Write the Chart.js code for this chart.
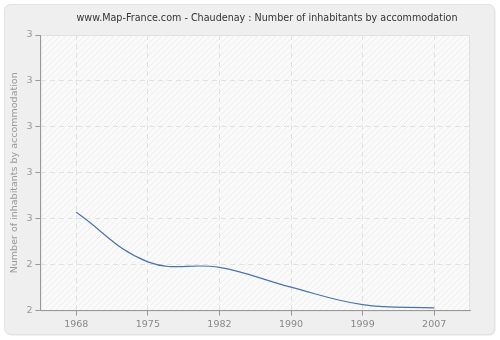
<!DOCTYPE html>
<html>
<head>
<meta charset="utf-8">
<script src="https://cdn.jsdelivr.net/npm/chart.js@4/dist/chart.umd.min.js"></script>
<style>
  html, body { margin: 0; padding: 0; background: #fff; }
  canvas { display: block; }
</style>
</head>
<body>
<canvas id="chart" width="500" height="340"></canvas>
<script>
// census years and inhabitants per accommodation
const years = ['1968', '1975', '1982', '1990', '1999', '2007'];
const inhabitants = [2.514, 2.406, 2.394, 2.351, 2.313, 2.306];

// y axis range, labels are shown rounded to whole numbers
const yMin = 2.3;
const yMax = 2.9;
const yStep = 0.1;

const titleText = 'www.Map-France.com - Chaudenay : Number of inhabitants by accommodation';
const yTitle = 'Number of inhabitants by accommodation';

const FONT = 'DejaVu Sans';

// light hatch used as plot background
function hatchPattern(ctx) {
  const c = document.createElement('canvas');
  c.width = 6; c.height = 6;
  const p = c.getContext('2d');
  p.fillStyle = '#fafafa';
  p.fillRect(0, 0, 6, 6);
  p.strokeStyle = '#eeeeee';
  p.lineWidth = 1;
  p.beginPath();
  p.moveTo(0, 6); p.lineTo(6, 0);
  p.moveTo(-3, 3); p.lineTo(3, -3);
  p.moveTo(3, 9); p.lineTo(9, 3);
  p.stroke();
  return ctx.createPattern(c, 'repeat');
}

// grey rounded frame, plot background and title
const frame = {
  id: 'frame',
  beforeDraw(chart) {
    const { ctx, chartArea: a } = chart;
    ctx.save();
    ctx.fillStyle = '#fff';
    ctx.fillRect(0, 0, chart.width, chart.height);
    ctx.beginPath();
    ctx.roundRect(5.5, 5.5, chart.width - 10, chart.height - 10, 6);
    ctx.fillStyle = '#e6e6e6';
    ctx.fill();
    ctx.beginPath();
    ctx.roundRect(4.5, 4.5, chart.width - 10, chart.height - 10, 6);
    ctx.fillStyle = '#efefef';
    ctx.fill();
    ctx.strokeStyle = '#e2e2e2';
    ctx.stroke();
    ctx.fillStyle = hatchPattern(ctx);
    ctx.fillRect(a.left, a.top, a.right - a.left, a.bottom - a.top);
    ctx.strokeStyle = '#e0e0e0';
    ctx.strokeRect(a.left + 0.5, a.top + 0.5, a.right - a.left - 1, a.bottom - a.top);
    ctx.fillStyle = '#333';
    ctx.font = '9.6px "' + FONT + '"';
    ctx.textAlign = 'center';
    ctx.textBaseline = 'middle';
    ctx.fillText(titleText, 267, 18);
    ctx.restore();
  }
};

new Chart(document.getElementById('chart'), {
  type: 'line',
  data: {
    labels: years,
    datasets: [{
      data: inhabitants,
      borderColor: '#4a74a8',
      borderWidth: 1.2,
      pointRadius: 0,
      tension: 0.4,
      fill: false
    }]
  },
  options: {
    responsive: false,
    animation: false,
    layout: { padding: { top: 35, right: 30, bottom: 7, left: 9 } },
    plugins: {
      legend: { display: false },
      tooltip: { enabled: false },
      title: { display: false }
    },
    scales: {
      x: {
        type: 'category',
        offset: true,
        grid: {
          color: '#e2e2e2',
          tickColor: '#999',
          tickLength: 5,
          offset: false
        },
        border: { color: '#999', dash: [5, 4] },
        ticks: { color: '#888', font: { family: FONT, size: 9.5 }, padding: 3 }
      },
      y: {
        min: yMin,
        max: yMax,
        grid: { color: '#e2e2e2', tickColor: '#999', tickLength: 5 },
        border: { color: '#999', dash: [5, 4] },
        ticks: {
          stepSize: yStep,
          color: '#999',
          font: { family: FONT, size: 9.5 },
          padding: 3,
          callback: v => Math.round(Number(v.toFixed(2)))
        },
        title: {
          display: true,
          text: yTitle,
          color: '#999',
          font: { family: FONT, size: 9.5 },
          padding: { top: 0, bottom: 3 }
        }
      }
    }
  },
  plugins: [frame]
});
</script>
</body>
</html>
